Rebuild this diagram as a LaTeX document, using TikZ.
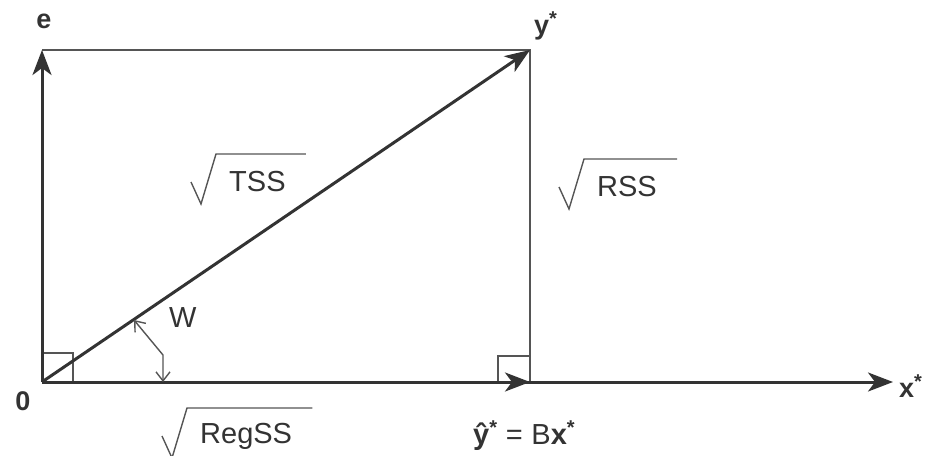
\documentclass[tikz,border=0pt]{standalone}
\usepackage{fontspec}
\setmainfont{Liberation Sans}
\usetikzlibrary{arrows.meta}
\definecolor{ink}{HTML}{333333}
\definecolor{thinink}{HTML}{555555}
\begin{document}
\begin{tikzpicture}[x=1pt,y=-1pt,
  axis/.style={draw=ink,line width=3pt,-{Stealth[length=25pt,width=19pt,inset=7pt]}},
  thin/.style={draw=thinink,line width=1.4pt},
  lbl/.style={text=ink,inner sep=0pt,font=\fontsize{29}{34}\selectfont},
  radic/.style={draw=thinink,line width=1.4pt,line join=miter},
  warr/.style={draw=thinink,line width=1.4pt,{Straight Barb[length=9pt,width=14pt]}-{Straight Barb[length=9pt,width=14pt]}}]
\useasboundingbox (0,0) rectangle (926,455);
% points
\coordinate (o) at (42,382);
\coordinate (etop) at (42,50);
\coordinate (ys) at (530,50);
\coordinate (yh) at (530,382);
\coordinate (xend) at (893,382);
\coordinate (wa) at (163,382);
\coordinate (wc) at (163,355);
\coordinate (wb) at (134,320);
% rectangle thin lines
\draw[thin] (etop) -- (ys) -- (yh);
% right angle marks
\draw[thin] (o) ++(0,-29) -| (73,382);
\draw[thin] (yh) ++(0,-26) -| (498,382);
% axes and vectors
\draw[axis] (o) -- (xend);
\draw[axis] (o) -- (etop);
\draw[axis] (o) -- (yh);
\draw[axis] (o) -- (ys);
% angle W
\draw[warr] (wb) -- (wc) -- (wa);
% labels
\node[lbl,font=\fontsize{27}{32}\selectfont\bfseries] (le) at (44,21) {e};
\node[lbl,font=\fontsize{27}{32}\selectfont\bfseries,anchor=west] (lys) at (534,26) {y\raisebox{0.35em}{\fontsize{20}{22}\selectfont *}};
\node[lbl,font=\fontsize{27}{32}\selectfont\bfseries] (lo) at (23,401) {0};
\node[lbl,font=\fontsize{27}{32}\selectfont\bfseries,anchor=west] (lx) at (899,386) {x\raisebox{0.35em}{\fontsize{20}{22}\selectfont *}};
\node[lbl,anchor=west] (lw) at (169,318) {W};
\node[lbl,anchor=west] (ltss) at (229,182) {TSS};
\node[lbl,anchor=west] (lrss) at (597,187) {RSS};
\node[lbl,anchor=west] (lreg) at (200,436) {RegSS};
\node[lbl,anchor=west] (lyh) at (473,436) {\textbf{\^y}\raisebox{0.35em}{\fontsize{20}{22}\selectfont\bfseries *}\hspace{0.3em}=\hspace{0.3em}B\textbf{x}\raisebox{0.35em}{\fontsize{20}{22}\selectfont\bfseries *}};
% radicals
\foreach \n in {ltss,lrss,lreg}{
  \draw[radic] ([xshift=-38pt]\n.west) -- ([xshift=-28pt,yshift=-22pt]\n.west) -- ([xshift=-13pt,yshift=28pt]\n.west) -- ([xshift=20pt,yshift=28pt]\n.east);
}
\end{tikzpicture}
\end{document}
